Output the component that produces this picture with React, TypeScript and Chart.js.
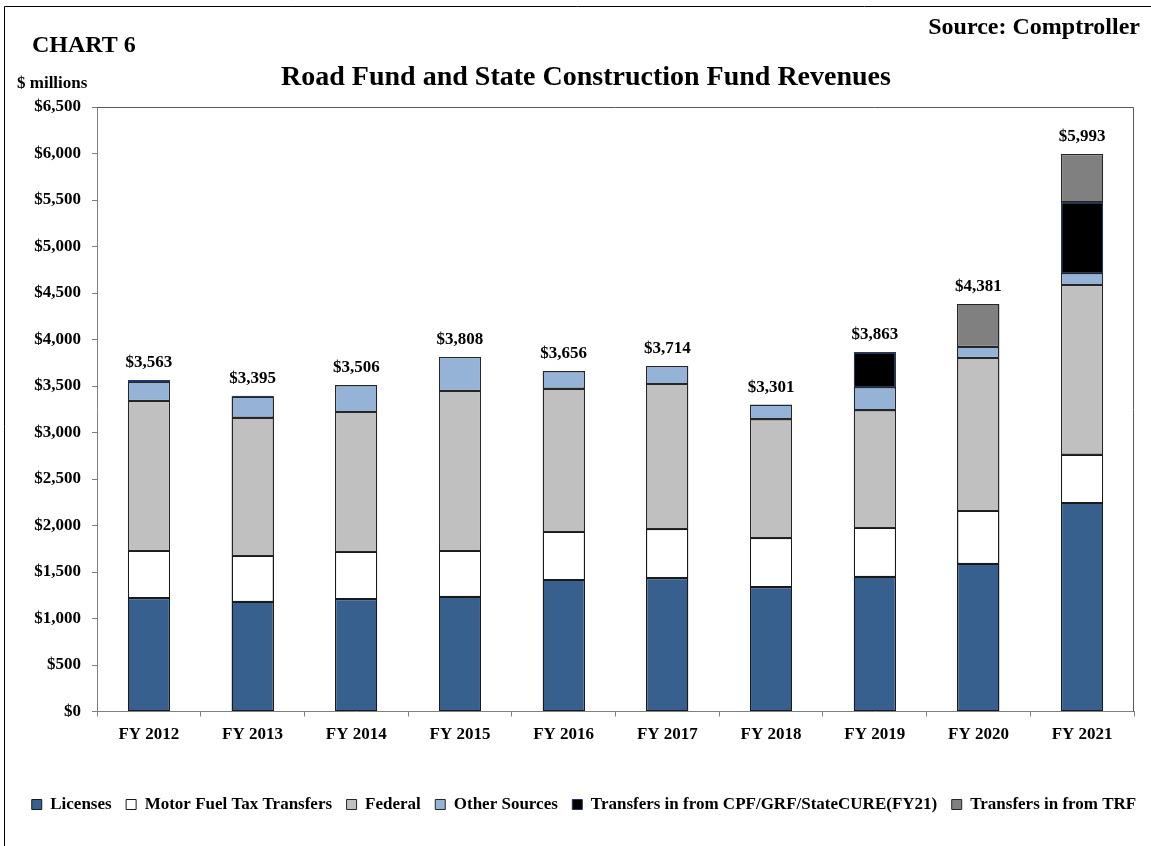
import React, { useEffect, useRef } from "react";
import { Chart, registerables } from "chart.js";

Chart.register(...registerables);

const FONT = '"Times New Roman", "Liberation Serif", serif';

const categories = ["FY 2012", "FY 2013", "FY 2014", "FY 2015", "FY 2016", "FY 2017", "FY 2018", "FY 2019", "FY 2020", "FY 2021"];
const licenses = [1218, 1181, 1207, 1235, 1415, 1433, 1336, 1450, 1590, 2243];
const motorFuel = [509, 492, 509, 492, 516, 527, 528, 524, 567, 520];
const federal = [1614, 1488, 1503, 1722, 1542, 1561, 1276, 1263, 1647, 1819];
const otherSources = [206, 224, 287, 359, 183, 193, 161, 247, 118, 129];
const transfersCPF = [16, 10, null, null, null, null, null, 379, null, 764];
const transfersTRF = [null, null, null, null, null, null, null, null, 459, 518];
const totals = [3563, 3395, 3506, 3808, 3656, 3714, 3301, 3863, 4381, 5993];

const TITLE = "Road Fund and State Construction Fund Revenues";

const legendShiftPlugin = {
  id: "legendShift",
  afterLayout(chart: any) {
    const lg = chart.legend;
    if (lg) {
      lg.left += 17;
      lg.right += 17;
    }
  },
};

const crispBorderPlugin = {
  id: "crispBorders",
  afterDatasetsDraw(chart: any) {
    const ctx = chart.ctx;
    ctx.save();
    ctx.lineWidth = 1;
    chart.data.datasets.forEach((ds: any, di: number) => {
      const meta = chart.getDatasetMeta(di);
      meta.data.forEach((el: any, i: number) => {
        if (ds.data[i] == null) return;
        const p = el.getProps(["x", "y", "base", "width"], true);
        const x0 = Math.round(p.x - p.width / 2) + 0.5;
        const x1 = Math.round(p.x + p.width / 2) - 0.5;
        const yTop = Math.round(Math.min(p.y, p.base)) + 0.5;
        const yBot = Math.round(Math.max(p.y, p.base)) - 0.5;
        ctx.strokeStyle = ds.borderColor;
        ctx.strokeRect(x0, yTop, x1 - x0, Math.max(yBot - yTop, 0));
      });
    });
    ctx.restore();
  },
};

const decorPlugin = {
  id: "decor",
  afterDraw(chart: any) {
    const ctx = chart.ctx;
    const { left, right, top, bottom } = chart.chartArea;
    ctx.save();
    // outer frame
    ctx.strokeStyle = "#000";
    ctx.lineWidth = 1;
    ctx.beginPath();
    ctx.moveTo(4.5, 846);
    ctx.lineTo(4.5, 6.5);
    ctx.lineTo(1151, 6.5);
    ctx.stroke();
    // plot top / right border
    ctx.strokeStyle = "#595959";
    ctx.beginPath();
    ctx.moveTo(left, Math.round(top) + 0.5);
    ctx.lineTo(Math.round(right) - 0.5, Math.round(top) + 0.5);
    ctx.lineTo(Math.round(right) - 0.5, bottom);
    ctx.stroke();

    ctx.fillStyle = "#000";
    ctx.textBaseline = "alphabetic";
    ctx.textAlign = "left";
    ctx.font = `bold 24px ${FONT}`;
    ctx.fillText("CHART 6", 32, 52);
    ctx.font = `bold 17px ${FONT}`;
    ctx.fillText("$ millions", 17, 88);
    ctx.font = `bold 28px ${FONT}`;
    ctx.textAlign = "center";
    ctx.fillText(TITLE, 586, 85);
    ctx.font = `bold 24px ${FONT}`;
    ctx.textAlign = "right";
    ctx.fillText("Source: Comptroller", 1140, 34);

    const xs = chart.scales.x;
    const ys = chart.scales.y;
    ctx.font = `bold 17px ${FONT}`;
    ctx.textAlign = "center";
    totals.forEach((t, i) => {
      ctx.fillText("$" + t.toLocaleString("en-US"), xs.getPixelForValue(i), ys.getPixelForValue(t) - 13);
    });
    ctx.restore();
  },
};

export default function App() {
  const ref = useRef<HTMLCanvasElement | null>(null);

  useEffect(() => {
    if (!ref.current) return;
    const common = { borderWidth: 1, borderSkipped: false, barPercentage: 0.405, categoryPercentage: 1 };
    const chart = new Chart(ref.current, {
      type: "bar",
      data: {
        labels: categories,
        datasets: [
          { label: "Licenses", data: licenses, backgroundColor: "#37608F", borderColor: "#1a1a1a", ...common },
          { label: "Motor Fuel Tax Transfers", data: motorFuel, backgroundColor: "#FFFFFF", borderColor: "#1a1a1a", ...common },
          { label: "Federal", data: federal, backgroundColor: "#C0C0C0", borderColor: "#262626", ...common },
          { label: "Other Sources", data: otherSources, backgroundColor: "#95B3D7", borderColor: "#262626", ...common },
          { label: "Transfers in from CPF/GRF/StateCURE(FY21)", data: transfersCPF, backgroundColor: "#000000", borderColor: "#1F3864", ...common },
          { label: "Transfers in from TRF", data: transfersTRF, backgroundColor: "#808080", borderColor: "#262626", ...common },
        ],
      } as any,
      options: {
        responsive: false,
        animation: false,
        devicePixelRatio: 1,
        layout: { padding: { top: 107, left: 0, right: 17, bottom: 23 } },
        plugins: {
          legend: {
            position: "bottom",
            labels: {
              boxWidth: 10,
              boxHeight: 10,
              padding: 14.5,
              color: "#000",
              font: { family: FONT, size: 17, weight: "bold" },
            },
          },
          tooltip: { enabled: false },
          title: { display: false },
        },
        scales: {
          x: {
            stacked: true,
            grid: { offset: true, drawOnChartArea: false, drawTicks: true, tickLength: 5, color: "#808080" },
            border: { display: true, color: "#808080", width: 1 },
            ticks: { color: "#000", padding: 8, maxRotation: 0, font: { family: FONT, size: 17, weight: "bold" } },
            afterFit: (s: any) => {
              s.height = 70;
            },
          },
          y: {
            stacked: true,
            min: 0,
            max: 6500,
            grid: { drawOnChartArea: false, drawTicks: true, tickLength: 5, color: "#808080" },
            border: { display: true, color: "#808080", width: 1 },
            ticks: {
              stepSize: 500,
              color: "#000",
              padding: 11,
              font: { family: FONT, size: 17, weight: "bold" },
              callback: (v: any) => "$" + Number(v).toLocaleString("en-US"),
            },
            afterFit: (s: any) => {
              s.width = 97;
            },
          },
        },
      } as any,
      plugins: [legendShiftPlugin, crispBorderPlugin, decorPlugin],
    });
    return () => chart.destroy();
  }, []);

  return (
    <div style={{ position: "absolute", left: 0, top: 0, width: 1151, height: 846, background: "#fff" }}>
      <canvas ref={ref} width={1151} height={846} />
    </div>
  );
}
